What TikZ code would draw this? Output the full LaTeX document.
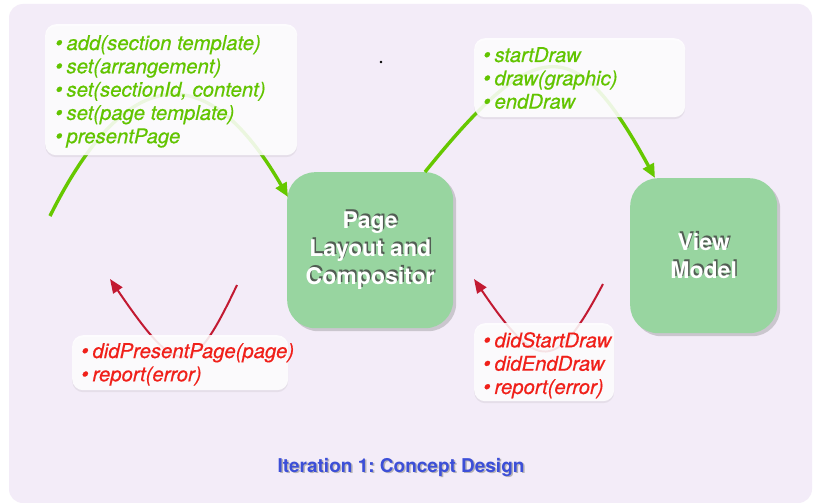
\documentclass[tikz,border=0pt]{standalone}
\usepackage{fontspec}
\setmainfont{TeX Gyre Heros}
\newfontfamily\callfont[FakeBold=0.5]{TeX Gyre Heros}
\usetikzlibrary{arrows.meta,shadows,calc}

\definecolor{lavender}{HTML}{F3ECF8}
\definecolor{callgreen}{HTML}{62C400}
\definecolor{arcgreen}{HTML}{66C800}
\definecolor{boxgreen}{HTML}{98D5A0}
\definecolor{callred}{HTML}{F0201A}
\definecolor{arcred}{HTML}{C21A32}
\definecolor{titleblue}{HTML}{3C4FD8}

\tikzset{
  x=1pt, y=-1pt,
  msgbox/.style={draw=none, fill=white, fill opacity=0.87, text opacity=1,
    rounded corners=11pt, anchor=north west, inner sep=0pt,
    drop shadow={shadow xshift=0pt, shadow yshift=-2pt, opacity=0.12}},
  component/.style={fill=boxgreen, rounded corners=28pt, anchor=north west,
    inner sep=0pt,
    drop shadow={shadow xshift=3pt, shadow yshift=-3pt, opacity=0.35}},
  complabel/.style={font=\fontsize{23}{28}\selectfont\bfseries, align=center,
    text=white},
  compshade/.style={complabel, text=black!75, opacity=0.8},
  calltext/.style={font=\callfont\fontsize{20.3}{23.3}\selectfont\itshape,
    align=left, anchor=north west, inner sep=0pt},
  goodcall/.style={calltext, text=callgreen},
  badcall/.style={calltext, text=callred},
  sendarc/.style={draw=arcgreen, line width=3.4pt,
    -{Triangle[length=14pt,width=12pt]}},
  replyarc/.style={draw=arcred, line width=2pt,
    -{Triangle[length=14pt,width=11pt]}},
}

\newcommand{\itm}{{\fontsize{21}{23}\selectfont\textbullet}\hspace{4pt}}

\begin{document}
\begin{tikzpicture}
  % canvas
  \fill[white] (0,0) rectangle (817,503);
  \useasboundingbox (0,0) rectangle (817,503);
  \fill[lavender, rounded corners=14pt] (9,4) rectangle (812,503);

  % free ends of the call arcs
  \coordinate (sendstart) at (50,216);
  \coordinate (replyA) at (237,285);
  \coordinate (replyB) at (603,284);

  % components
  \node[component, minimum width=166pt, minimum height=156pt] (plc) at (287,172) {};
  \node[component, minimum width=147pt, minimum height=155pt] (vm) at (630,178) {};

  % arcs (drawn before the message boxes so they show faintly through them)
  \draw[sendarc] (sendstart) .. controls (129,58) and (209,60) .. ($(plc.north west)+(1,25)$);
  \draw[sendarc] ($(plc.north west)+(138,0)$) .. controls (538,32) and (576,33) .. ($(vm.north west)+(25,0)$);
  \draw[replyarc] (replyA) .. controls (192,380) and (179,380) .. (110,279);
  \draw[replyarc] (replyB) .. controls (556,373) and (538,373) .. (474,279);

  % message boxes
  \node[msgbox, minimum width=252pt, minimum height=131pt] (calls1) at (45,24) {};
  \node[msgbox, minimum width=211pt, minimum height=79pt] (calls2) at (474,38) {};
  \node[msgbox, minimum width=216pt, minimum height=55pt] (reps1) at (72,335) {};
  \node[msgbox, minimum width=140pt, minimum height=78pt] (reps2) at (474,323) {};

  \node[goodcall] (calls1txt) at ($(calls1.north west)+(10,11)$) {%
    \itm add(section template)\\
    \itm set(arrangement)\\
    \itm set(sectionId, content)\\
    \itm set(page template)\\
    \itm presentPage};
  \node[goodcall] (calls2txt) at ($(calls2.north west)+(9,9)$) {%
    \itm startDraw\\
    \itm draw(graphic)\\
    \itm endDraw};
  \node[badcall] (reps1txt) at ($(reps1.north west)+(9,8)$) {%
    \itm didPresentPage(page)\\
    \itm report(error)};
  \node[badcall] (reps2txt) at ($(reps2.north west)+(9,9)$) {%
    \itm didStartDraw\\
    \itm didEndDraw\\
    \itm report(error)};

  % component labels with a soft text shadow
  \node[compshade] (plcshade) at ($(plc.center)+(1.5,-1.5)$) {Page\\Layout and\\Compositor};
  \node[complabel] (plclabel) at (plc.center) {Page\\Layout and\\Compositor};
  \node[compshade] (vmshade) at ($(vm.center)+(1.5,-1.5)$) {View\\Model};
  \node[complabel] (vmlabel) at (vm.center) {View\\Model};

  % stray dot
  \fill[black] (381,62) circle (1.4pt);

  % caption
  \node[font=\frenchspacing\fontsize{19}{22}\selectfont\bfseries, text=black!45, opacity=0.6] (titleshade) at (402.5,468.5) {Iteration 1: Concept Design};
  \node[font=\frenchspacing\fontsize{19}{22}\selectfont\bfseries, text=titleblue] (title) at (401,467) {Iteration 1: Concept Design};
\end{tikzpicture}
\end{document}
